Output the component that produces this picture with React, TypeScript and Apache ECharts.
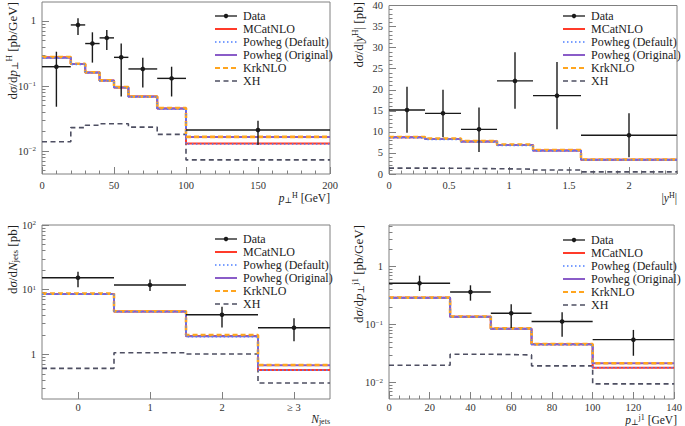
import React, { useEffect, useRef } from 'react';
import * as echarts from 'echarts';

const SERIF = '"Liberation Serif", "DejaVu Serif", serif';

// ---- Panel 1: pT^H ----
const ptHEdges = [0, 20, 30, 40, 50, 60, 80, 100, 200];
const ptHCenters = [10, 25, 35, 45, 55, 70, 90, 150];
const ptHData = [0.198, 0.87, 0.45, 0.55, 0.276, 0.183, 0.131, 0.021];
const ptHDataHi = [0.337, 1.1, 0.67, 0.73, 0.45, 0.273, 0.198, 0.0293];
const ptHDataLo = [0.048, 0.61, 0.229, 0.358, 0.069, 0.095, 0.069, 0.0124];
const ptHMcatnlo = [0.276, 0.218, 0.162, 0.122, 0.095, 0.069, 0.045, 0.0131];
const ptHPowhegDef = [0.27, 0.215, 0.16, 0.12, 0.094, 0.068, 0.044, 0.0128];
const ptHPowhegOrig = [0.272, 0.218, 0.162, 0.121, 0.095, 0.069, 0.045, 0.0165];
const ptHKrk = [0.28, 0.22, 0.163, 0.122, 0.096, 0.069, 0.046, 0.0165];
const ptHXH = [0.0139, 0.0229, 0.0249, 0.0263, 0.0263, 0.0233, 0.018, 0.0073];

// ---- Panel 2: |y^H| ----
const yHEdges = [0, 0.3, 0.6, 0.9, 1.2, 1.6, 2.4];
const yHCenters = [0.15, 0.45, 0.75, 1.05, 1.4, 2.0];
const yHData = [15.2, 14.4, 10.6, 22.1, 18.6, 9.2];
const yHDataHi = [20.7, 20.0, 15.8, 28.9, 26.6, 14.4];
const yHDataLo = [9.8, 8.7, 5.2, 15.5, 10.6, 4.0];
const yHMcatnlo = [8.7, 8.3, 7.7, 6.9, 5.6, 3.4];
const yHPowhegDef = [8.6, 8.2, 7.6, 6.8, 5.5, 3.35];
const yHPowhegOrig = [8.7, 8.3, 7.7, 6.9, 5.6, 3.4];
const yHKrk = [8.8, 8.4, 7.8, 7.0, 5.7, 3.45];
const yHXH = [1.4, 1.35, 1.25, 1.15, 0.95, 0.5];

// ---- Panel 3: N_jets ----
const njEdges = [-0.5, 0.5, 1.5, 2.5, 3.5];
const njCenters = [0, 1, 2, 3];
const njLabels = ['0', '1', '2', '≥ 3'];
const njData = [15.3, 11.8, 4.1, 2.58];
const njDataHi = [19, 14.4, 5.46, 3.6];
const njDataLo = [10.9, 9.5, 2.6, 1.6];
const njMcatnlo = [8.6, 4.6, 1.92, 0.573];
const njPowhegDef = [8.5, 4.55, 1.88, 0.57];
const njPowhegOrig = [8.6, 4.6, 1.9, 0.68];
const njKrk = [8.7, 4.65, 1.99, 0.684];
const njXH = [0.607, 1.06, 1.01, 0.36];

// ---- Panel 4: pT^j1 ----
const ptJEdges = [0, 30, 50, 70, 100, 140];
const ptJCenters = [15, 40, 60, 85, 120];
const ptJData = [0.516, 0.366, 0.157, 0.113, 0.055];
const ptJDataHi = [0.70, 0.477, 0.224, 0.163, 0.081];
const ptJDataLo = [0.38, 0.259, 0.0877, 0.062, 0.029];
const ptJMcatnlo = [0.292, 0.137, 0.085, 0.046, 0.018];
const ptJPowhegDef = [0.288, 0.135, 0.084, 0.045, 0.018];
const ptJPowhegOrig = [0.29, 0.137, 0.085, 0.046, 0.0215];
const ptJKrk = [0.292, 0.138, 0.086, 0.046, 0.0215];
const ptJXH = [0.0199, 0.0308, 0.03, 0.0194, 0.0095];

const legendNames = ['Data', 'MCatNLO', 'Powheg (Default)', 'Powheg (Original)', 'KrkNLO', 'XH'];

const RED = '#ff3b2a';
const BLUE = '#4d7fff';
const PURPLE = '#8a5cc8';
const ORANGE = '#ffa51f';
const GRAY = '#4e4f62';
const BLACK = '#1a1a1a';
const FRAME = '#808080';

// model styles: [MCatNLO, Powheg Default, Powheg Original, KrkNLO, XH]
const modelStyles = [
  { color: RED, width: 2, type: 'solid' as any, z: 3 },
  { color: BLUE, width: 1.6, type: [1.5, 2.5] as any, z: 6 },
  { color: PURPLE, width: 2, type: 'solid' as any, z: 4 },
  { color: ORANGE, width: 2.6, type: [5, 3] as any, z: 5 },
  { color: GRAY, width: 1.6, type: [5, 3.5] as any, z: 2 },
];

function linTicks(min: number, max: number, step: number) {
  const out: number[] = [];
  const n = Math.round((max - min) / step);
  for (let i = 0; i <= n; i++) out.push(+(min + i * step).toFixed(6));
  return out;
}
function logMinor(min: number, max: number) {
  const out: number[] = [];
  for (let e = -4; e <= 3; e++) {
    for (let m = 2; m <= 9; m++) {
      const v = m * Math.pow(10, e);
      if (v > min && v < max) out.push(+v.toPrecision(6));
    }
  }
  return out;
}
const logFmt = (v: number) => {
  const e = Math.round(Math.log10(v));
  if (e === 0) return '1';
  return `10{sup|${e < 0 ? '−' : ''}${Math.abs(e)}}`;
};

const supRich = {
  sup: { fontSize: 7, lineHeight: 8, verticalAlign: 'top', fontFamily: SERIF, color: '#333' },
};
function makeRich(fs: number) {
  const s = Math.round(fs * 0.68);
  return {
    n: { fontSize: fs, lineHeight: fs + 2, fontFamily: SERIF, fill: '#222', color: '#222' },
    i: { fontSize: fs, lineHeight: fs + 2, fontStyle: 'italic', fontFamily: SERIF, fill: '#222', color: '#222' },
    sup: { fontSize: s, lineHeight: s + 2, verticalAlign: 'top', fontFamily: SERIF, fill: '#222', color: '#222' },
    sub: { fontSize: s, lineHeight: s + 2, verticalAlign: 'bottom', fontFamily: SERIF, fill: '#222', color: '#222' },
  };
}
const YT = 13;
const XT = 11.5;

const panels = [
  {
    grid: { left: 42, top: 2, width: 288, height: 172 },
    x: { min: 0, max: 200, major: linTicks(0, 200, 50), minor: linTicks(0, 200, 10), fmt: (v: number) => String(v), margin: 6 },
    y: { log: true, min: 0.00443, max: 1.96, major: [0.01, 0.1, 1], minor: logMinor(0.00443, 1.96) },
    edges: ptHEdges, centers: ptHCenters, data: ptHData, lo: ptHDataLo, hi: ptHDataHi,
    models: [ptHMcatnlo, ptHPowhegDef, ptHPowhegOrig, ptHKrk, ptHXH],
    legend: [215, 16],
    yTitle: { x: 12, y: 2, text: '{n|d}{i|σ}{n|/d}{i|p}{sub|⊥}{sup|H}{n| [pb/GeV]}' },
    xTitle: { x: 330, y: 198, text: '{i|p}{sub|⊥}{sup|H}{n| [GeV]}' },
  },
  {
    grid: { left: 389, top: 2, width: 288, height: 172 },
    x: { min: 0, max: 2.4, major: linTicks(0, 2, 0.5), minor: linTicks(0, 2.4, 0.1), fmt: (v: number) => String(v), margin: 6 },
    y: { log: false, min: 0, max: 40, major: linTicks(0, 40, 5), minor: linTicks(0, 40, 1) },
    edges: yHEdges, centers: yHCenters, data: yHData, lo: yHDataLo, hi: yHDataHi,
    models: [yHMcatnlo, yHPowhegDef, yHPowhegOrig, yHKrk, yHXH],
    legend: [563, 16],
    yTitle: { x: 358, y: 2, text: '{n|d}{i|σ}{n|/d|}{i|y}{sup|H}{n|| [pb]}' },
    xTitle: { x: 677, y: 198, text: '{n||}{i|y}{sup|H}{n||}' },
  },
  {
    grid: { left: 42, top: 225, width: 288, height: 174 },
    x: { min: -0.5, max: 3.5, major: njCenters, minor: [] as number[], fmt: (v: number) => njLabels[Math.round(v)] ?? '', margin: 3 },
    y: { log: true, min: 0.204, max: 100, major: [1, 10, 100], minor: logMinor(0.204, 100) },
    edges: njEdges, centers: njCenters, data: njData, lo: njDataLo, hi: njDataHi,
    models: [njMcatnlo, njPowhegDef, njPowhegOrig, njKrk, njXH],
    legend: [215, 239],
    yTitle: { x: 12, y: 225, text: '{n|d}{i|σ}{n|/d}{i|N}{sub|jets}{n| [pb]}' },
    xTitle: { x: 330, y: 419, text: '{i|N}{sub|jets}' },
  },
  {
    grid: { left: 389, top: 225, width: 288, height: 174 },
    x: { min: 0, max: 140, major: linTicks(0, 140, 20), minor: linTicks(0, 140, 5), fmt: (v: number) => String(v), margin: 3 },
    y: { log: true, min: 0.0052, max: 5.24, major: [0.01, 0.1, 1], minor: logMinor(0.0052, 5.24) },
    edges: ptJEdges, centers: ptJCenters, data: ptJData, lo: ptJDataLo, hi: ptJDataHi,
    models: [ptJMcatnlo, ptJPowhegDef, ptJPowhegOrig, ptJKrk, ptJXH],
    legend: [563, 240],
    yTitle: { x: 358, y: 225, text: '{n|d}{i|σ}{n|/d}{i|p}{sub|⊥}{sup|j1}{n| [pb/GeV]}' },
    xTitle: { x: 677, y: 420, text: '{i|p}{sub|⊥}{sup|j1}{n| [GeV]}' },
  },
];

function stepData(edges: number[], vals: number[]) {
  const d = vals.map((v, i) => [edges[i], v]);
  d.push([edges[edges.length - 1], vals[vals.length - 1]]);
  return d;
}

function legendElements(x0: number, y0: number) {
  const styles = [
    { color: BLACK, w: 1.3, dash: null as any, dot: true },
    { color: RED, w: 2, dash: null },
    { color: BLUE, w: 1.6, dash: [1.5, 2.5] },
    { color: PURPLE, w: 2, dash: null },
    { color: ORANGE, w: 2.2, dash: [5, 3] },
    { color: GRAY, w: 1.6, dash: [5, 3.5] },
  ];
  const els: any[] = [];
  legendNames.forEach((name, i) => {
    const s: any = styles[i];
    const y = y0 + i * 13;
    const ls: any = { stroke: s.color, lineWidth: s.w };
    if (s.dash) ls.lineDash = s.dash;
    els.push({ type: 'line', shape: { x1: x0, y1: y, x2: x0 + 22, y2: y }, style: ls, silent: true });
    if (s.dot) els.push({ type: 'circle', shape: { cx: x0 + 11, cy: y, r: 2.2 }, style: { fill: s.color }, silent: true });
    els.push({
      type: 'text', x: x0 + 28, y, silent: true,
      style: { text: name, font: `12px ${SERIF}`, fill: '#222', verticalAlign: 'middle', align: 'left' },
    });
  });
  return els;
}

function buildOption() {
  const grid: any[] = [];
  const xAxis: any[] = [];
  const yAxis: any[] = [];
  const series: any[] = [];
  const graphic: any[] = [];

  panels.forEach((p, pi) => {
    grid.push({ ...p.grid, show: true, borderColor: FRAME, borderWidth: 1, backgroundColor: 'transparent' });
    const axisLabelBase = { fontFamily: SERIF, fontSize: 10.5, color: '#333' };
    const noLine = { show: false, onZero: false };
    xAxis.push({
      type: 'value', gridIndex: pi, position: 'bottom', offset: 0, min: p.x.min, max: p.x.max,
      axisLine: noLine,
      splitLine: { show: false },
      axisTick: { show: true, inside: true, length: 7, customValues: p.x.major, lineStyle: { color: FRAME } },
      axisLabel: { ...axisLabelBase, margin: p.x.margin, customValues: p.x.major, formatter: p.x.fmt },
    });
    xAxis.push({
      type: 'value', gridIndex: pi, position: 'bottom', offset: 0, min: p.x.min, max: p.x.max,
      axisLine: noLine,
      splitLine: { show: false },
      axisTick: { show: p.x.minor.length > 0, inside: true, length: 3.5, customValues: p.x.minor.length ? p.x.minor : [p.x.min], lineStyle: { color: FRAME } },
      axisLabel: { show: false },
    });
    const yType = p.y.log ? 'log' : 'value';
    yAxis.push({
      type: yType, logBase: 10, gridIndex: pi, position: 'left', offset: 0, min: p.y.min, max: p.y.max,
      axisLine: noLine,
      splitLine: { show: false },
      axisTick: { show: true, inside: true, length: 7, customValues: p.y.major, lineStyle: { color: FRAME } },
      axisLabel: {
        ...axisLabelBase, margin: 6, customValues: p.y.major,
        formatter: p.y.log ? logFmt : (v: number) => String(v),
        rich: supRich,
      },
    });
    yAxis.push({
      type: yType, logBase: 10, gridIndex: pi, position: 'left', offset: 0, min: p.y.min, max: p.y.max,
      axisLine: noLine,
      splitLine: { show: false },
      axisTick: { show: true, inside: true, length: 3.5, customValues: p.y.minor, lineStyle: { color: FRAME } },
      axisLabel: { show: false },
    });

    const xi = pi * 2;
    const yi = pi * 2;
    p.models.forEach((vals, mi) => {
      const st = modelStyles[mi];
      series.push({
        type: 'line', name: legendNames[mi + 1], xAxisIndex: xi, yAxisIndex: yi,
        step: 'end', showSymbol: false, symbol: 'none', silent: true, z: st.z,
        lineStyle: { color: st.color, width: st.width, type: st.type },
        data: stepData(p.edges, vals),
      });
    });
    series.push({
      type: 'custom', name: 'Data', xAxisIndex: xi, yAxisIndex: yi, z: 10, silent: true,
      data: p.data.map((v, i) => [p.edges[i], p.edges[i + 1], p.centers[i], v, p.lo[i], p.hi[i]]),
      renderItem: (params: any, api: any) => {
        const x0 = api.value(0), x1 = api.value(1), xc = api.value(2);
        const y = api.value(3), lo = api.value(4), hi = api.value(5);
        const a = api.coord([x0, y]);
        const b = api.coord([x1, y]);
        const c = api.coord([xc, y]);
        const l = api.coord([xc, lo]);
        const h = api.coord([xc, hi]);
        return {
          type: 'group',
          children: [
            { type: 'line', shape: { x1: a[0], y1: a[1], x2: b[0], y2: b[1] }, style: { stroke: BLACK, lineWidth: 1.4 } },
            { type: 'line', shape: { x1: l[0], y1: l[1], x2: h[0], y2: h[1] }, style: { stroke: BLACK, lineWidth: 1.4 } },
            { type: 'circle', shape: { cx: c[0], cy: c[1], r: 2.3 }, style: { fill: BLACK } },
          ],
        };
      },
    });

    graphic.push(...legendElements(p.legend[0], p.legend[1]));
    graphic.push({
      type: 'text', x: p.yTitle.x, y: p.yTitle.y, rotation: Math.PI / 2, silent: true,
      style: {
        text: p.yTitle.text, rich: makeRich(YT), font: `${YT}px ${SERIF}`, fill: '#222',
        align: 'right', verticalAlign: 'middle',
      },
    });
    graphic.push({
      type: 'text', x: p.xTitle.x, y: p.xTitle.y, silent: true,
      style: {
        text: p.xTitle.text, rich: makeRich(XT), font: `${XT}px ${SERIF}`, fill: '#222',
        align: 'right', verticalAlign: 'middle',
      },
    });
  });

  return {
    animation: false,
    backgroundColor: '#ffffff',
    grid, xAxis, yAxis, series, graphic,
  };
}

export default function App() {
  const ref = useRef<HTMLDivElement>(null);
  useEffect(() => {
    if (!ref.current) return;
    const chart = echarts.init(ref.current, undefined, { renderer: 'svg' });
    chart.setOption(buildOption() as any);
    return () => chart.dispose();
  }, []);
  return <div ref={ref} style={{ width: 685, height: 426, position: 'absolute', left: 0, top: 0 }} />;
}
